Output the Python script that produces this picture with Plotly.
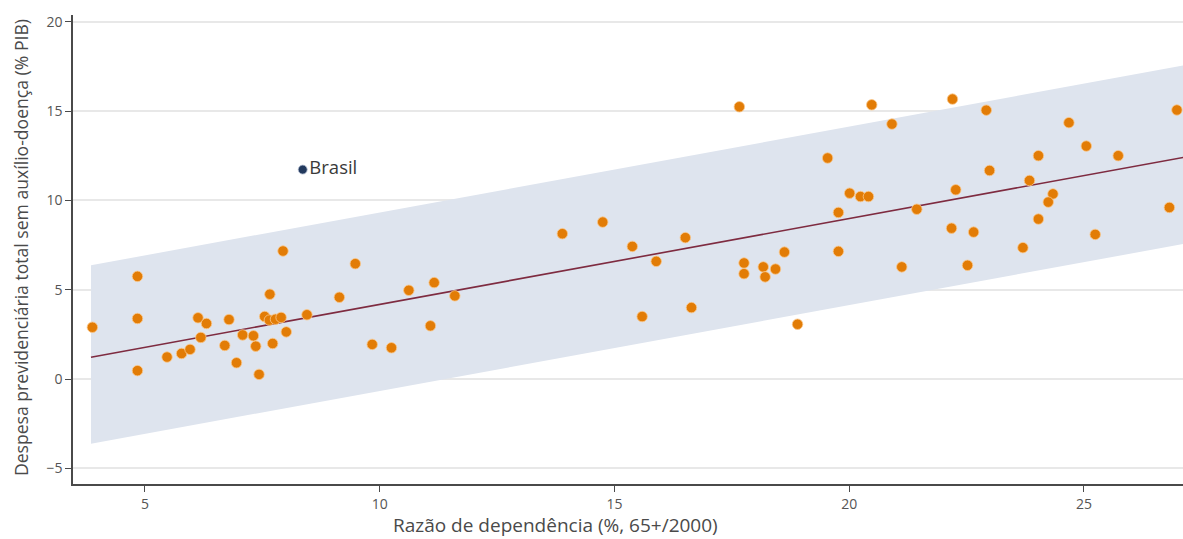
import plotly.graph_objects as go

# Orange country points (x: dependency ratio, y: pension spending % GDP)
country_x = [3.88, 4.84, 4.84, 4.84, 5.47, 5.78, 5.96, 6.13, 6.31, 6.19, 6.79, 6.70, 6.95,
             7.08, 7.31, 7.36, 7.43, 7.72, 7.66, 7.55, 7.65, 7.78, 7.90, 8.01, 7.94, 8.45,
             9.48, 9.14, 10.62, 11.16, 11.60, 9.84, 10.25, 11.08,
             13.89, 14.75, 15.38, 16.51, 15.89, 15.59, 16.64,
             17.76, 17.76, 18.17, 18.21, 18.43, 18.62, 18.90,
             17.66, 20.48, 20.91, 19.54, 20.01, 20.24, 20.41, 19.77, 21.44, 19.77, 21.12,
             22.20, 22.92, 24.68, 26.98, 25.05, 25.73, 24.03, 22.99, 23.84, 22.27, 24.34,
             24.24, 24.03, 26.82, 22.18, 22.65, 25.24, 23.70, 22.52]
country_y = [2.90, 5.75, 3.39, 0.47, 1.23, 1.43, 1.66, 3.43, 3.11, 2.33, 3.33, 1.88, 0.91,
             2.47, 2.42, 1.84, 0.26, 1.99, 4.75, 3.50, 3.30, 3.35, 3.45, 2.64, 7.17, 3.60,
             6.46, 4.58, 4.97, 5.40, 4.66, 1.94, 1.75, 2.98,
             8.14, 8.79, 7.43, 7.92, 6.59, 3.50, 4.00,
             6.50, 5.90, 6.28, 5.72, 6.16, 7.11, 3.07,
             15.25, 15.36, 14.28, 12.38, 10.41, 10.22, 10.22, 9.33, 9.51, 7.15, 6.28,
             15.68, 15.06, 14.36, 15.07, 13.05, 12.51, 12.51, 11.68, 11.12, 10.60, 10.37,
             9.91, 8.96, 9.61, 8.45, 8.23, 8.10, 7.36, 6.37]

# Highlighted country
brasil_x = [8.36]
brasil_y = [11.73]
brasil_label = ["Brasil"]

# Trend line and band
trend_intercept = -0.63
trend_slope = 0.481
band_upper_offset = 5.15
band_lower_offset = -4.85
trend_x = [3.85, 27.12]

trend_y = [trend_intercept + trend_slope * v for v in trend_x]
band_up = [v + band_upper_offset for v in trend_y]
band_lo = [v + band_lower_offset for v in trend_y]

y_ticks = [-5, 0, 5, 10, 15, 20]
x_ticks = [5, 10, 15, 20, 25]

FONT = "Open Sans, sans-serif"

fig = go.Figure()

fig.add_trace(go.Scatter(
    x=trend_x + trend_x[::-1], y=band_up + band_lo[::-1],
    fill="toself", fillcolor="#DEE4EE", line=dict(width=0),
    mode="lines", hoverinfo="skip", showlegend=False))

fig.add_trace(go.Scatter(
    x=trend_x, y=trend_y, mode="lines",
    line=dict(color="#7E2B40", width=1.6), showlegend=False))

fig.add_trace(go.Scatter(
    x=country_x, y=country_y, mode="markers",
    marker=dict(symbol="circle", size=10.5, color="#E27C06",
                line=dict(color="rgba(250,200,140,0.8)", width=1)),
    showlegend=False, cliponaxis=False))

fig.add_trace(go.Scatter(
    x=brasil_x, y=brasil_y, mode="markers+text", text=brasil_label,
    textposition="middle right",
    textfont=dict(family=FONT, size=18.5, color="#3A3A3A"),
    marker=dict(symbol="circle", size=9, color="#233A5E",
                line=dict(color="rgba(180,190,210,0.8)", width=1)),
    showlegend=False))

fig.add_annotation(
    text="Razão de dependência (%, 65+/2000)",
    xref="paper", yref="paper", x=0.435, y=0, yshift=-41,
    xanchor="center", yanchor="middle", showarrow=False,
    font=dict(family=FONT, size=19, color="#4A4A4A"))

fig.add_annotation(
    text="Despesa previdenciária total sem auxílio-doença (% PIB)",
    xref="paper", yref="paper", x=0, xshift=-52, y=0.503,
    xanchor="center", yanchor="middle", textangle=-90, showarrow=False,
    font=dict(family=FONT, size=17.6, color="#4A4A4A"))

fig.update_layout(
    width=1183, height=539,
    margin=dict(l=73, r=0, t=15, b=55),
    plot_bgcolor="white", paper_bgcolor="white",
    font=dict(family=FONT, color="#555555"),
    xaxis=dict(range=[3.467, 27.11], tickvals=x_ticks, showgrid=False,
               zeroline=False, showline=True, linecolor="#4A4A4A", linewidth=1.5,
               ticks="outside", ticklen=6, tickcolor="#4A4A4A",
               tickfont=dict(size=14, color="#555555")),
    yaxis=dict(range=[-5.88, 20.39], tickvals=y_ticks, showgrid=True,
               gridcolor="#E8E8E8", gridwidth=1.5, zeroline=False,
               showline=True, linecolor="#4A4A4A", linewidth=1.5,
               ticks="outside", ticklen=6, tickcolor="#4A4A4A",
               tickfont=dict(size=14, color="#555555")),
)

fig.write_html("out.html", config={"displayModeBar": False},
               post_script="document.body.style.margin='0';document.body.style.overflow='hidden';")
